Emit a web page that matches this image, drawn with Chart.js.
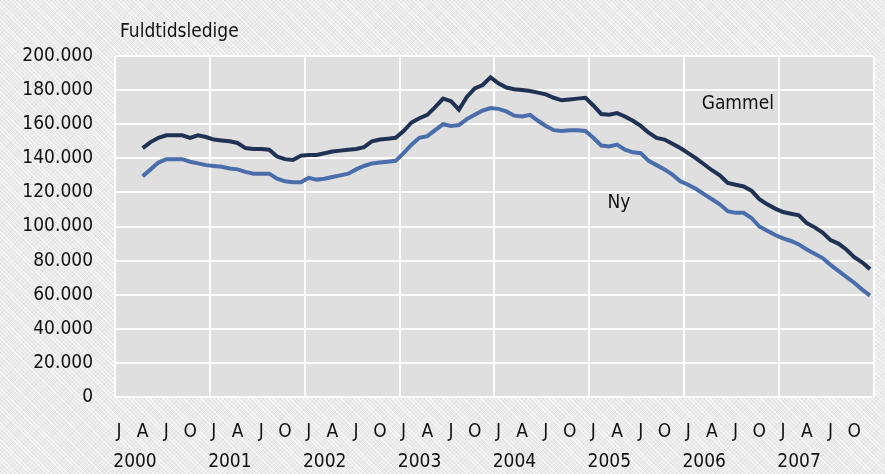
<!DOCTYPE html>
<html>
<head>
<meta charset="utf-8">
<script src="https://cdn.jsdelivr.net/npm/chart.js@4.4.0/dist/chart.umd.min.js"></script>
<style>
  html, body { margin: 0; padding: 0; }
  body {
    width: 885px;
    height: 474px;
    background-color: #ebebeb;
    background-image:
      repeating-linear-gradient(45deg, rgba(255, 255, 255, 0.55) 0 1px, transparent 1px 3px),
      repeating-linear-gradient(-45deg, rgba(0, 0, 0, 0.035) 0 1px, transparent 1px 3px);
  }
  canvas { display: block; }
</style>
</head>
<body>
<canvas id="chart" width="885" height="474"></canvas>
<script>
const years = ['2000', '2001', '2002', '2003', '2004', '2005', '2006', '2007']
const quarterLetters = ['J', 'A', 'J', 'O']
const yTicks = [0, 20000, 40000, 60000, 80000, 100000, 120000, 140000, 160000, 180000, 200000]

// monthly values, first value is april 2000 (month index 3), last is december 2007
const firstMonth = 3
const gammel = [
  146000, 149500, 152000, 153500, 153500, 153500, 152000, 153500, 152500,
  151000, 150500, 150000, 149000, 146000, 145500, 145500, 145000, 141000, 139500, 139000, 141500,
  142000, 142000, 143000, 144000, 144500, 145000, 145500, 146500, 150000, 151000, 151500, 152000,
  156000, 161000, 163500, 165500, 170000, 175000, 173500, 168500, 176000, 181000, 183000, 187500,
  184000, 181500, 180500, 180000, 179500, 178500, 177500, 175500, 174000, 174500, 175000, 175500,
  171000, 166000, 165500, 166500, 164500, 162000, 159000, 155000, 152000, 151000, 148500, 146000,
  143000, 140000, 136500, 133000, 130000, 125500, 124500, 123500, 121000, 116000, 113000, 110500,
  108500, 107500, 106500, 102000, 99500, 96500, 92000, 90000, 86500, 82000, 79000, 75000
]
const ny = [
  129500, 133500, 137500, 139500, 139500, 139500, 138000, 137000, 136000,
  135500, 135000, 134000, 133500, 132000, 131000, 131000, 131000, 128000, 126500, 126000, 126000,
  128500, 127500, 128000, 129000, 130000, 131000, 133500, 135500, 137000, 137500, 138000, 138500,
  143000, 148000, 152000, 153000, 156500, 160000, 159000, 159500, 163000, 165500, 168000, 169500,
  169000, 167500, 165000, 164500, 165500, 162000, 159000, 156500, 156000, 156500, 156500, 156000,
  152000, 147500, 147000, 148000, 145000, 143500, 143000, 138500, 136000, 133500, 130500, 126500,
  124500, 122000, 119000, 116000, 113000, 109000, 108000, 108000, 105000, 100000, 97500, 95000,
  93000, 91500, 89500, 86500, 84000, 81500, 77500, 74000, 70500, 67000, 63000, 59500
]

const FONT = '"DejaVu Sans Condensed", "DejaVu Sans", sans-serif'
Chart.defaults.font.family = FONT
Chart.defaults.font.size = 19
Chart.defaults.color = '#111111'

const monthCount = years.length * 12
const quarterTicks = []
for (let q = 0; q < years.length * 4; q++) quarterTicks.push(q * 3 + 0.5)
const yearTicks = []
for (let i = 0; i <= years.length; i++) yearTicks.push(i * 12)

const toPoints = (values) => values.map((v, i) => ({ x: firstMonth + i + 0.5, y: v }))
const formatThousands = (v) => String(v).replace(/\B(?=(\d{3})+(?!\d))/g, '.')

const plotBackground = {
  id: 'plotBackground',
  beforeDraw(chart) {
    const { ctx, chartArea } = chart
    ctx.save()
    ctx.fillStyle = '#dfdfdf'
    ctx.fillRect(chartArea.left, chartArea.top, chartArea.right - chartArea.left, chartArea.bottom - chartArea.top)
    ctx.restore()
  }
}

const textLabels = {
  id: 'textLabels',
  afterDatasetsDraw(chart) {
    const { ctx, chartArea, scales } = chart
    ctx.save()
    ctx.font = '19px ' + FONT
    ctx.fillStyle = '#111111'
    ctx.textAlign = 'left'
    ctx.textBaseline = 'alphabetic'
    ctx.fillText('Fuldtidsledige', chartArea.left + 5, 37)
    ctx.textBaseline = 'middle'
    ctx.fillText('Gammel', scales.x.getPixelForValue(74.2), scales.y.getPixelForValue(171800))
    ctx.fillText('Ny', scales.x.getPixelForValue(62.3), scales.y.getPixelForValue(113800))
    ctx.restore()
  }
}

new Chart(document.getElementById('chart'), {
  type: 'line',
  data: {
    datasets: [
      {
        label: 'Gammel',
        data: toPoints(gammel),
        borderColor: '#1f3253',
        borderWidth: 4,
        pointRadius: 0,
        tension: 0
      },
      {
        label: 'Ny',
        data: toPoints(ny),
        borderColor: '#4a6dac',
        borderWidth: 4,
        pointRadius: 0,
        tension: 0
      }
    ]
  },
  options: {
    responsive: false,
    animation: false,
    events: [],
    layout: {
      padding: { top: 56, right: 2, left: 0, bottom: 0 }
    },
    scales: {
      x: {
        type: 'linear',
        position: 'bottom',
        min: 0,
        max: monthCount,
        weight: 0,
        grid: { display: false, drawTicks: false },
        border: { display: false },
        afterBuildTicks: (axis) => {
          axis.ticks = quarterTicks.map(v => ({ value: v }))
        },
        afterFit: (axis) => {
          axis.height = 47
        },
        ticks: {
          autoSkip: false,
          maxRotation: 0,
          padding: 24,
          callback: (v, i) => quarterLetters[i % 4]
        }
      },
      years: {
        type: 'linear',
        position: 'bottom',
        min: 0,
        max: monthCount,
        weight: 1,
        grid: { color: '#ffffff', lineWidth: 2, drawTicks: false },
        border: { display: false },
        afterBuildTicks: (axis) => {
          axis.ticks = yearTicks.map(v => ({ value: v }))
        },
        afterFit: (axis) => {
          axis.height = 30
        },
        ticks: {
          autoSkip: false,
          maxRotation: 0,
          padding: 7,
          labelOffset: 20,
          callback: (v, i) => years[i] || ''
        }
      },
      y: {
        min: 0,
        max: 200000,
        grid: { color: '#ffffff', lineWidth: 2, drawTicks: false },
        border: { display: false },
        afterBuildTicks: (axis) => {
          axis.ticks = yTicks.map(v => ({ value: v }))
        },
        afterFit: (axis) => {
          axis.width = 115
        },
        ticks: {
          padding: 22,
          callback: (v) => formatThousands(v)
        }
      }
    },
    plugins: {
      legend: { display: false },
      tooltip: { enabled: false }
    }
  },
  plugins: [plotBackground, textLabels]
})
</script>
</body>
</html>
